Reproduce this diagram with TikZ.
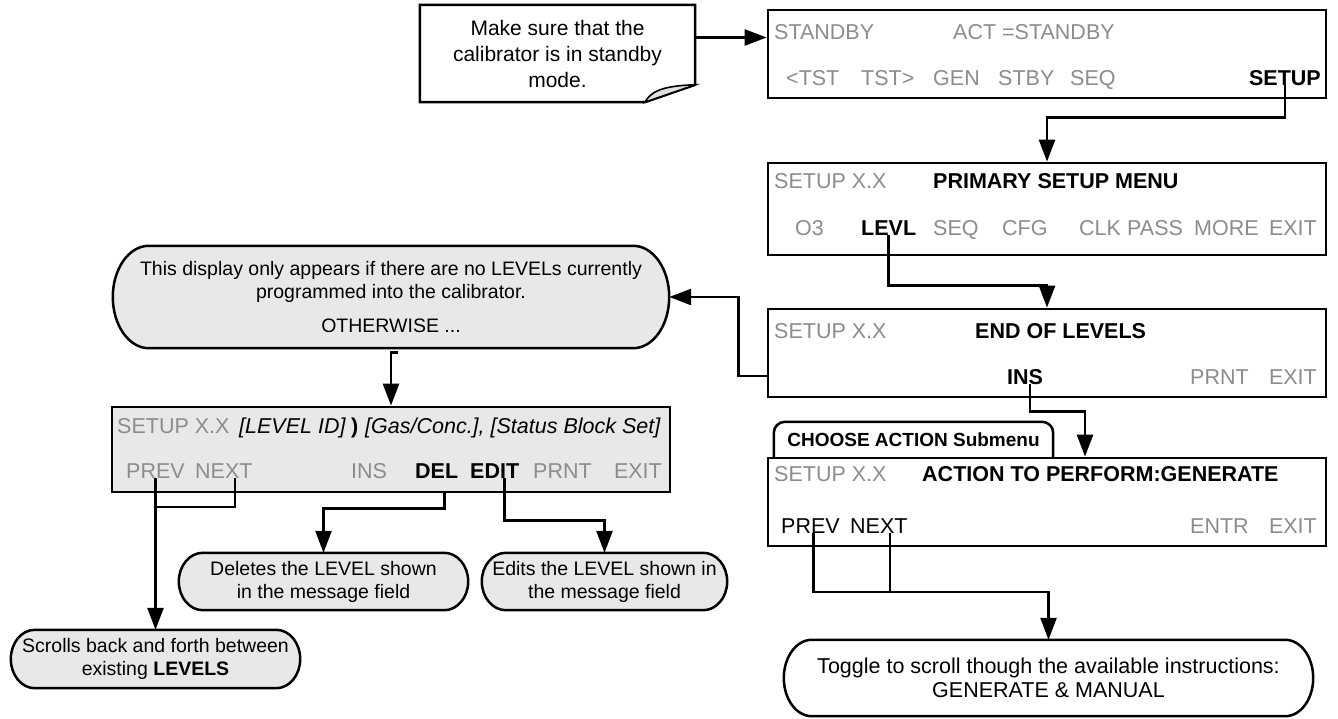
\documentclass[tikz,border=0pt]{standalone}
\usepackage{fontspec}
\setmainfont{Liberation Sans}
\usetikzlibrary{calc,arrows.meta}
\pgfdeclarelayer{background}
\pgfsetlayers{background,main}
\definecolor{dimtext}{RGB}{140,140,140}
\definecolor{panel}{RGB}{232,232,232}
\definecolor{flapgray}{RGB}{225,225,225}
\tikzset{
  lab/.style={inner sep=0pt, anchor=base west, font=\fontsize{21.5}{25}\selectfont},
  dim/.style={lab, text=dimtext},
  bld/.style={lab, font=\fontsize{21.5}{25}\selectfont\bfseries},
  itl/.style={lab, font=\fontsize{21.5}{25}\selectfont\itshape},
  disp/.style={draw, line width=2.8pt, fill=white, minimum width=558pt, minimum height=88pt, inner sep=0pt},
  conn/.style={line width=2.6pt},
  arr/.style={conn, -{Triangle[length=22pt,width=16pt]}},
  bubble/.style={inner sep=0pt, align=center, font=\fontsize{19.5}{23}\selectfont},
  outline/.style={draw=black, line width=2.5pt},
}
\newcommand{\capsule}[3]{%
  \path[outline, fill=#3] let \p1=(#1.north west), \p2=(#1.south east), \n1={0.5*(\y1-\y2)} in
    (\x1+#2,\y1) -- (\x2-#2,\y1)
    arc[start angle=90, end angle=-90, x radius=#2, y radius=\n1]
    -- (\x1+#2,\y2)
    arc[start angle=270, end angle=90, x radius=#2, y radius=\n1] -- cycle;}
\begin{document}
\begin{tikzpicture}[x=1pt,y=-1pt]
\useasboundingbox (0,0) rectangle (1338,718);

% ---- note
\node[bubble, font=\fontsize{21}{26}\selectfont, minimum width=275pt, minimum height=97pt] (n1) at (557.5,53.5) {Make sure that the\\calibrator is in standby\\mode.};

% ---- display 1
\node[disp] (d1) at (1047,54) {};
\node[dim] (d1a) at (774,39) {STANDBY};
\node[dim] (d1b) at (953,39) {ACT =STANDBY};
\node[dim] (d1c) at (786,85) {<TST};
\node[dim] (d1d) at (861,85) {TST>};
\node[dim] (d1e) at (933,85) {GEN};
\node[dim] (d1f) at (998,85) {STBY};
\node[dim] (d1g) at (1070,85) {SEQ};
\node[bld, anchor=base east] (setup) at (1321,85) {SETUP};

% ---- display 2
\node[disp, minimum height=92pt] (d2) at (1047,209) {};
\node[dim] (d2a) at (774,188) {SETUP X.X};
\node[bld] (d2b) at (933,188) {PRIMARY SETUP MENU};
\node[dim] (d2c) at (795,235) {O3};
\node[bld] (levl) at (861,235) {LEVL};
\node[dim] (d2e) at (933,235) {SEQ};
\node[dim] (d2f) at (1002,235) {CFG};
\node[dim] (d2g) at (1079,235) {CLK};
\node[dim] (d2h) at (1127,235) {PASS};
\node[dim] (d2i) at (1194,235) {MORE};
\node[dim, anchor=base east] (d2j) at (1317,235) {EXIT};

% ---- display 3
\node[disp] (d3) at (1047,353) {};
\node[dim] (d3a) at (774,338) {SETUP X.X};
\node[bld] (d3b) at (975,338) {END OF LEVELS};
\node[bld] (ins) at (1007,384) {INS};
\node[dim] (d3d) at (1190,384) {PRNT};
\node[dim, anchor=base east] (d3e) at (1317,384) {EXIT};

% ---- display 4 (level)
\node[disp, fill=panel, minimum height=85pt] (d4) at (391,449.5) {};
\node[dim] (d4a) at (117,433) {SETUP X.X};
\node[itl] (d4b) at (239,433) {[LEVEL ID]};
\node[bld] (d4c) at (351,433) {)};
\node[itl] (d4d) at (365,433) {[Gas/Conc.], [Status Block Set]};
\node[dim] (prev) at (126,478) {PREV};
\node[dim] (next) at (195,478) {NEXT};
\node[dim] (d4g) at (351,478) {INS};
\node[bld] (del) at (415,478) {DEL};
\node[bld] (edit) at (470,478) {EDIT};
\node[dim] (d4j) at (533,478) {PRNT};
\node[dim, anchor=base east] (d4k) at (662,478) {EXIT};

% ---- display 5 (action)
\node[inner sep=0pt, minimum width=279pt, minimum height=36pt, font=\fontsize{19}{22}\selectfont\bfseries] (tab) at (913.5,440) {CHOOSE ACTION Submenu};
\node[disp] (d5) at (1047,502) {};
\node[dim] (d5a) at (774,481) {SETUP X.X};
\node[bld] (d5b) at (922,481) {ACTION TO PERFORM:GENERATE};
\node[lab] (p2) at (781,533) {PREV};
\node[lab] (n2) at (850,533) {NEXT};
\node[dim] (d5e) at (1190,533) {ENTR};
\node[dim, anchor=base east] (d5f) at (1317,533) {EXIT};

% ---- bubbles
\node[bubble, minimum width=556pt, minimum height=102pt] (b1) at (391,297) {This display only appears if there are no LEVELs currently\\programmed into the calibrator.\\[11pt]OTHERWISE ...};
\node[bubble, minimum width=289pt, minimum height=57pt] (dlb) at (323.5,581.5) {Deletes the LEVEL shown\\in the message field};
\node[bubble, minimum width=245pt, minimum height=57pt] (edb) at (604.5,581.5) {Edits the LEVEL shown in\\the message field};
\node[bubble, minimum width=289pt, minimum height=58pt] (sc) at (155.5,659) {Scrolls back and forth between\\existing \textbf{LEVELS}};
\node[bubble, font=\fontsize{21.5}{24}\selectfont, minimum width=529pt, minimum height=76pt] (tg) at (1048.5,678) {Toggle to scroll though the available instructions:\\GENERATE \& MANUAL};

% ---- outlines
\begin{pgfonlayer}{background}
  \path[outline, fill=white] (n1.north west) -- (n1.north east) -- ($(n1.north east)+(0,80)$) -- ($(n1.south west)+(225,0)$) -- (n1.south west) -- cycle;
  \path[outline, line width=1.6pt, fill=flapgray] ($(n1.south west)+(225,0)$) .. controls ($(n1.south west)+(231,-10)$) and ($(n1.north east)+(-35,81)$) .. ($(n1.north east)+(0,80)$) -- cycle;
  \capsule{b1}{36pt}{panel}
  \capsule{dlb}{24pt}{panel}
  \capsule{edb}{24pt}{panel}
  \capsule{sc}{24pt}{panel}
  \capsule{tg}{28pt}{white}
  \path[outline, fill=white, rounded corners=11pt] (tab.south west) -- (tab.north west) -- (tab.north east) -- (tab.south east);
\end{pgfonlayer}

% ---- connectors
\coordinate (na) at ($(n1.east)+(0,-16)$);
\draw[arr] (na) -- (na -| d1.west);
\draw[arr] (setup.south) -- ++(0,32) -| (d2.north);
\draw[arr] (levl.south) -- ++(0,50) -| (d3.north);
\coordinate (insx) at ($(ins.south)+(5,0)$);
\draw[arr] (insx) -- ++(0,27) -| ($(d5.north)+(38,0)$);
\coordinate (d3r) at ($(d3.west)+(0,23)$);
\draw[arr] (d3r) -- ++(-28,0) |- (b1.east);
\draw[arr] ($(b1.south)+(7,4)$) -| (d4.north);
\coordinate (j1) at ($(sc.north)+(0,-123)$);
\draw[arr] (prev.south -| sc.north) -- (sc.north);
\draw[conn] ($(next.south)+(11,0)$) |- (j1);
\coordinate (delx) at ($(del.south)+(8,0)$);
\draw[arr] (delx |- d4.south) -- ++(0,15) -| (dlb.north);
\draw[arr] ($(edit.south)+(10,0)$) -- ++(0,42) -| (edb.north);
\coordinate (j2) at ($(tg.north)+(0,-48)$);
\draw[arr] ($(p2.south)+(3,0)$) |- (j2) -- (tg.north);
\coordinate (n2x) at ($(n2.south)+(11,0)$);
\draw[conn] (n2x) -- (n2x |- j2);
\end{tikzpicture}
\end{document}
